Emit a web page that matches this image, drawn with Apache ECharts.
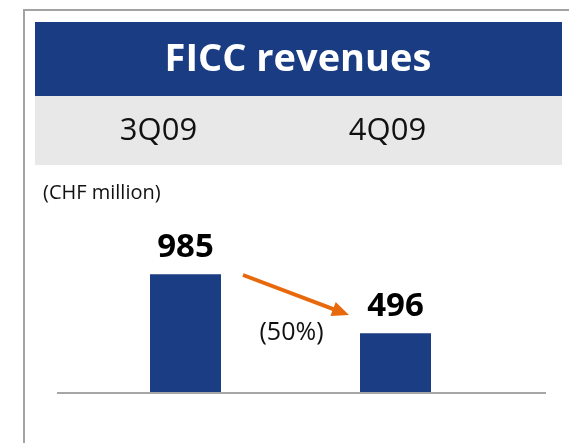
<!DOCTYPE html>
<html>
<head>
<meta charset="utf-8">
<script src="https://cdn.jsdelivr.net/npm/echarts@6/dist/echarts.min.js"></script>
<style>
  html, body { margin: 0; padding: 0; background: #fff; }
  #main { width: 569px; height: 443px; }
</style>
</head>
<body>
<div id="main"></div>
<script>
// chart data
var title = 'FICC revenues';
var unitText = '(CHF million)';
var categories = ['3Q09', '4Q09'];
var revenues = [985, 496];
var changeText = '(50%)';

var FONT = '"Open Sans", "Noto Sans", sans-serif';
var BLUE = '#1b3d84';

var chart = echarts.init(document.getElementById('main'));

// arrow between the two bars (decorative)
var arrowStart = [243, 275], arrowTip = [349, 315];
var dx = arrowTip[0] - arrowStart[0], dy = arrowTip[1] - arrowStart[1];
var len = Math.sqrt(dx * dx + dy * dy);
var ux = dx / len, uy = dy / len;
var headLen = 17, headHalf = 7.5;
var base = [arrowTip[0] - headLen * ux, arrowTip[1] - headLen * uy];

var option = {
    backgroundColor: '#fff',
    animation: false,
    grid: { left: 80.5, width: 420, top: 272.5, height: 120.5 },
    xAxis: {
        type: 'category',
        data: categories,
        axisLine: { show: false },
        axisTick: { show: false },
        axisLabel: { show: false }
    },
    yAxis: {
        type: 'value',
        min: 0,
        max: 1000,
        show: false,
        splitLine: { show: false }
    },
    series: [{
        type: 'bar',
        data: revenues,
        barWidth: 71,
        itemStyle: { color: BLUE },
        label: {
            show: true,
            position: 'top',
            distance: 10,
            fontFamily: FONT,
            fontWeight: 'bold',
            fontSize: 33,
            color: '#000'
        }
    }],
    graphic: [
        // outer frame
        { type: 'polyline', z: 1, shape: { points: [[24, 443], [24, 10], [569, 10]] },
          style: { stroke: '#a3a3a3', lineWidth: 2, fill: null } },
        // header band
        { type: 'rect', z: 1, shape: { x: 35, y: 22, width: 527, height: 74 }, style: { fill: '#1a3c83' } },
        { type: 'rect', z: 1, shape: { x: 35, y: 96, width: 527, height: 69 }, style: { fill: '#e8e8e8' } },
        { type: 'text', z: 2, x: 298, y: 60,
          style: { text: title, fill: '#fff', font: 'bold 38px ' + FONT, textAlign: 'center', textVerticalAlign: 'middle' } },
        { type: 'text', z: 2, x: 158.5, y: 131,
          style: { text: categories[0], fill: '#111', font: '31px ' + FONT, textAlign: 'center', textVerticalAlign: 'middle' } },
        { type: 'text', z: 2, x: 387.5, y: 131,
          style: { text: categories[1], fill: '#111', font: '31px ' + FONT, textAlign: 'center', textVerticalAlign: 'middle' } },
        { type: 'text', z: 2, x: 43, y: 193,
          style: { text: unitText, fill: '#111', font: '20px ' + FONT, textAlign: 'left', textVerticalAlign: 'middle' } },
        // baseline
        { type: 'line', z: 5, shape: { x1: 57, y1: 393, x2: 546, y2: 393 }, style: { stroke: '#a6a6a6', lineWidth: 2 } },
        // change arrow
        { type: 'line', z: 5, shape: { x1: arrowStart[0], y1: arrowStart[1], x2: base[0] + ux, y2: base[1] + uy },
          style: { stroke: '#e8680c', lineWidth: 4 } },
        { type: 'polygon', z: 5,
          shape: { points: [arrowTip,
              [base[0] - headHalf * uy, base[1] + headHalf * ux],
              [base[0] + headHalf * uy, base[1] - headHalf * ux]] },
          style: { fill: '#e8680c' } },
        { type: 'text', z: 5, x: 291.5, y: 333,
          style: { text: changeText, fill: '#111', font: '25px ' + FONT, textAlign: 'center', textVerticalAlign: 'middle' } }
    ]
};
chart.setOption(option);
</script>
</body>
</html>
